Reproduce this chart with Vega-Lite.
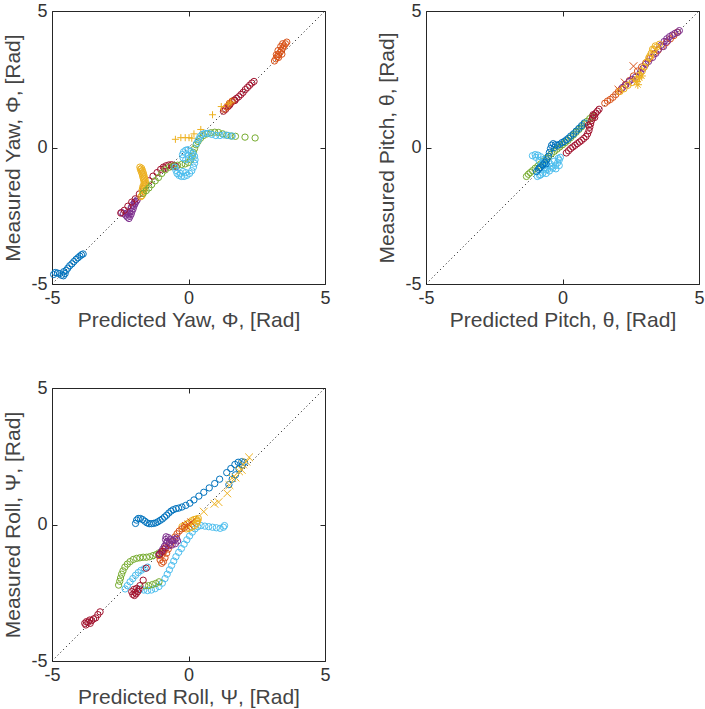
{
"$schema":"https://vega.github.io/schema/vega-lite/v6.json",
"background":"white",
"padding":{"left":2,"top":1,"right":0,"bottom":0},
"config":{
 "view":{"stroke":"#262626","strokeWidth":1},
 "axis":{"domain":false,"grid":false,"tickSize":-5,"tickColor":"#262626","tickWidth":1,
  "labelFont":"Liberation Sans","labelFontSize":18,"labelColor":"#333333","labelPadding":10,"labelFlush":false,
  "titleFont":"Liberation Sans","titleFontSize":21,"titleFontWeight":"normal","titleColor":"#444444"},
 "axisX":{"titlePadding":2},
 "axisY":{"titlePadding":7}
},
"datasets":{
"diag":[{"x":-5,"y":-5},{"x":5,"y":5}],
"yaw":[
{"s":"b","m":"o","x":-4.94,"y":-4.65},{"s":"b","m":"o","x":-4.88,"y":-4.58},{"s":"b","m":"o","x":-4.8,"y":-4.6},{"s":"b","m":"o","x":-4.72,"y":-4.62},{"s":"b","m":"o","x":-4.65,"y":-4.68},{"s":"b","m":"o","x":-4.58,"y":-4.7},{"s":"b","m":"o","x":-4.52,"y":-4.62},{"s":"b","m":"o","x":-4.57,"y":-4.55},{"s":"b","m":"o","x":-4.48,"y":-4.5},{"s":"b","m":"o","x":-4.42,"y":-4.42},{"s":"b","m":"o","x":-4.35,"y":-4.33},{"s":"b","m":"o","x":-4.27,"y":-4.26},{"s":"b","m":"o","x":-4.2,"y":-4.18},{"s":"b","m":"o","x":-4.12,"y":-4.1},{"s":"b","m":"o","x":-4.05,"y":-4.04},{"s":"b","m":"o","x":-3.98,"y":-3.98},{"s":"b","m":"o","x":-3.92,"y":-3.93},{"s":"b","m":"o","x":-3.86,"y":-3.9},
{"s":"p","m":"o","x":-2.45,"y":-2.38},{"s":"p","m":"o","x":-2.38,"y":-2.42},{"s":"p","m":"o","x":-2.3,"y":-2.48},{"s":"p","m":"o","x":-2.24,"y":-2.55},{"s":"p","m":"o","x":-2.18,"y":-2.6},{"s":"p","m":"o","x":-2.14,"y":-2.52},{"s":"p","m":"o","x":-2.1,"y":-2.44},{"s":"p","m":"o","x":-2.07,"y":-2.34},{"s":"p","m":"o","x":-2.03,"y":-2.25},{"s":"p","m":"o","x":-2.0,"y":-2.15},{"s":"p","m":"o","x":-1.96,"y":-2.06},{"s":"p","m":"o","x":-1.92,"y":-1.98},{"s":"p","m":"o","x":-1.88,"y":-1.92},{"s":"p","m":"o","x":-2.2,"y":-2.45},{"s":"p","m":"o","x":-2.15,"y":-2.35},{"s":"p","m":"o","x":-2.25,"y":-2.4},{"s":"p","m":"o","x":-2.1,"y":-2.2},{"s":"p","m":"o","x":-2.05,"y":-2.1},{"s":"p","m":"o","x":-1.98,"y":-2.0},
{"s":"r","m":"o","x":-2.48,"y":-2.4},{"s":"r","m":"o","x":-2.35,"y":-2.3},{"s":"r","m":"o","x":-2.22,"y":-2.15},{"s":"r","m":"o","x":-2.08,"y":-2.0},{"s":"r","m":"o","x":-1.95,"y":-1.88},{"s":"r","m":"o","x":-1.8,"y":-1.7},{"s":"r","m":"o","x":-1.65,"y":-1.5},{"s":"r","m":"o","x":-1.45,"y":-1.22},{"s":"r","m":"o","x":-1.3,"y":-1.05},{"s":"r","m":"o","x":-1.15,"y":-0.92},{"s":"r","m":"o","x":-1.02,"y":-0.8},{"s":"r","m":"o","x":-0.92,"y":-0.72},{"s":"r","m":"o","x":-0.82,"y":-0.67},{"s":"r","m":"o","x":-0.72,"y":-0.64},{"s":"r","m":"o","x":-0.62,"y":-0.63},{"s":"r","m":"o","x":-0.52,"y":-0.66},{"s":"r","m":"o","x":-0.45,"y":-0.7},{"s":"r","m":"o","x":-0.88,"y":-0.78},{"s":"r","m":"o","x":-0.6,"y":-0.7},
{"s":"r","m":"o","x":1.28,"y":1.33},{"s":"r","m":"o","x":1.36,"y":1.4},{"s":"r","m":"o","x":1.45,"y":1.5},{"s":"r","m":"o","x":1.53,"y":1.6},{"s":"r","m":"o","x":1.6,"y":1.68},{"s":"r","m":"o","x":1.68,"y":1.74},{"s":"r","m":"o","x":1.76,"y":1.8},{"s":"r","m":"o","x":1.84,"y":1.86},{"s":"r","m":"o","x":1.92,"y":1.94},{"s":"r","m":"o","x":2.0,"y":2.02},{"s":"r","m":"o","x":2.08,"y":2.12},{"s":"r","m":"o","x":2.16,"y":2.2},{"s":"r","m":"o","x":2.24,"y":2.28},{"s":"r","m":"o","x":2.32,"y":2.36},{"s":"r","m":"o","x":2.4,"y":2.42},{"s":"r","m":"o","x":1.5,"y":1.55},{"s":"r","m":"o","x":1.7,"y":1.72},
{"s":"o","m":"o","x":3.15,"y":3.17},{"s":"o","m":"o","x":3.2,"y":3.25},{"s":"o","m":"o","x":3.25,"y":3.33},{"s":"o","m":"o","x":3.3,"y":3.4},{"s":"o","m":"o","x":3.35,"y":3.48},{"s":"o","m":"o","x":3.4,"y":3.56},{"s":"o","m":"o","x":3.45,"y":3.64},{"s":"o","m":"o","x":3.5,"y":3.72},{"s":"o","m":"o","x":3.55,"y":3.8},{"s":"o","m":"o","x":3.6,"y":3.86},{"s":"o","m":"o","x":3.22,"y":3.4},{"s":"o","m":"o","x":3.28,"y":3.55},{"s":"o","m":"o","x":3.38,"y":3.7},{"s":"o","m":"o","x":3.45,"y":3.8},{"s":"o","m":"o","x":3.3,"y":3.3},{"s":"o","m":"o","x":3.42,"y":3.42},{"s":"o","m":"o","x":1.3,"y":1.4},{"s":"o","m":"o","x":1.4,"y":1.48},{"s":"o","m":"o","x":1.5,"y":1.62},{"s":"o","m":"o","x":1.6,"y":1.7},
{"s":"y","m":"o","x":-1.78,"y":-0.72},{"s":"y","m":"o","x":-1.76,"y":-0.8},{"s":"y","m":"o","x":-1.73,"y":-0.88},{"s":"y","m":"o","x":-1.7,"y":-0.96},{"s":"y","m":"o","x":-1.68,"y":-1.04},{"s":"y","m":"o","x":-1.66,"y":-1.12},{"s":"y","m":"o","x":-1.64,"y":-1.2},{"s":"y","m":"o","x":-1.62,"y":-1.28},{"s":"y","m":"o","x":-1.6,"y":-1.36},{"s":"y","m":"o","x":-1.6,"y":-1.44},{"s":"y","m":"o","x":-1.62,"y":-1.52},{"s":"y","m":"o","x":-1.64,"y":-1.6},{"s":"y","m":"o","x":-1.67,"y":-1.68},{"s":"y","m":"o","x":-1.7,"y":-1.76},{"s":"y","m":"o","x":-1.74,"y":-1.8},{"s":"y","m":"o","x":-1.72,"y":-0.76},{"s":"y","m":"o","x":-1.69,"y":-0.84},{"s":"y","m":"o","x":-1.66,"y":-0.92},{"s":"y","m":"o","x":-1.64,"y":-1.0},{"s":"y","m":"o","x":-1.62,"y":-1.08},{"s":"y","m":"o","x":-1.6,"y":-1.16},{"s":"y","m":"o","x":-1.58,"y":-1.24},{"s":"y","m":"o","x":-1.57,"y":-1.32},{"s":"y","m":"o","x":-1.66,"y":-1.4},{"s":"y","m":"o","x":-1.68,"y":-1.48},{"s":"y","m":"o","x":-1.7,"y":-1.56},
{"s":"y","m":"+","x":-0.48,"y":0.3},{"s":"y","m":"+","x":-0.28,"y":0.36},{"s":"y","m":"+","x":-0.12,"y":0.36},{"s":"y","m":"+","x":0.02,"y":0.36},{"s":"y","m":"+","x":0.12,"y":0.34},{"s":"y","m":"+","x":0.2,"y":0.5},{"s":"y","m":"+","x":0.45,"y":0.66},{"s":"y","m":"+","x":0.88,"y":1.2},{"s":"y","m":"+","x":1.2,"y":1.5},{"s":"y","m":"+","x":1.45,"y":1.6},{"s":"y","m":"+","x":1.55,"y":1.66},
{"s":"g","m":"o","x":-1.66,"y":-1.68},{"s":"g","m":"o","x":-1.55,"y":-1.58},{"s":"g","m":"o","x":-1.45,"y":-1.48},{"s":"g","m":"o","x":-1.35,"y":-1.36},{"s":"g","m":"o","x":-1.22,"y":-1.22},{"s":"g","m":"o","x":-1.1,"y":-1.1},{"s":"g","m":"o","x":-0.98,"y":-0.95},{"s":"g","m":"o","x":-0.85,"y":-0.82},{"s":"g","m":"o","x":-0.7,"y":-0.72},{"s":"g","m":"o","x":-0.55,"y":-0.68},{"s":"g","m":"o","x":-0.4,"y":-0.65},{"s":"g","m":"o","x":-0.25,"y":-0.62},{"s":"g","m":"o","x":-0.12,"y":-0.6},{"s":"g","m":"o","x":0.0,"y":-0.55},{"s":"g","m":"o","x":0.08,"y":-0.45},{"s":"g","m":"o","x":0.14,"y":-0.32},{"s":"g","m":"o","x":0.18,"y":-0.18},{"s":"g","m":"o","x":0.22,"y":-0.04},{"s":"g","m":"o","x":0.28,"y":0.1},{"s":"g","m":"o","x":0.35,"y":0.22},{"s":"g","m":"o","x":0.44,"y":0.34},{"s":"g","m":"o","x":0.55,"y":0.44},{"s":"g","m":"o","x":0.68,"y":0.5},{"s":"g","m":"o","x":0.82,"y":0.54},{"s":"g","m":"o","x":0.96,"y":0.56},{"s":"g","m":"o","x":1.1,"y":0.55},{"s":"g","m":"o","x":1.25,"y":0.5},{"s":"g","m":"o","x":1.4,"y":0.45},{"s":"g","m":"o","x":1.56,"y":0.42},{"s":"g","m":"o","x":1.72,"y":0.41},{"s":"g","m":"o","x":2.07,"y":0.38},{"s":"g","m":"o","x":2.44,"y":0.35},
{"s":"c","m":"o","x":-0.5,"y":-0.72},{"s":"c","m":"o","x":-0.46,"y":-0.84},{"s":"c","m":"o","x":-0.42,"y":-0.95},{"s":"c","m":"o","x":-0.35,"y":-1.02},{"s":"c","m":"o","x":-0.26,"y":-1.06},{"s":"c","m":"o","x":-0.16,"y":-1.06},{"s":"c","m":"o","x":-0.06,"y":-1.02},{"s":"c","m":"o","x":0.04,"y":-0.95},{"s":"c","m":"o","x":0.12,"y":-0.85},{"s":"c","m":"o","x":0.18,"y":-0.72},{"s":"c","m":"o","x":0.22,"y":-0.58},{"s":"c","m":"o","x":0.24,"y":-0.45},{"s":"c","m":"o","x":0.22,"y":-0.32},{"s":"c","m":"o","x":0.16,"y":-0.22},{"s":"c","m":"o","x":0.08,"y":-0.14},{"s":"c","m":"o","x":-0.02,"y":-0.08},{"s":"c","m":"o","x":-0.1,"y":-0.1},{"s":"c","m":"o","x":-0.18,"y":-0.16},{"s":"c","m":"o","x":-0.22,"y":-0.26},{"s":"c","m":"o","x":-0.2,"y":-0.38},{"s":"c","m":"o","x":-0.1,"y":-0.45},{"s":"c","m":"o","x":0.0,"y":-0.4},{"s":"c","m":"o","x":0.1,"y":-0.3},{"s":"c","m":"o","x":-0.3,"y":-0.95},{"s":"c","m":"o","x":-0.2,"y":-0.88},{"s":"c","m":"o","x":-0.1,"y":-0.92},{"s":"c","m":"o","x":0.3,"y":0.15},{"s":"c","m":"o","x":0.36,"y":0.28},{"s":"c","m":"o","x":0.42,"y":0.4},{"s":"c","m":"o","x":0.5,"y":0.48},{"s":"c","m":"o","x":0.6,"y":0.52},{"s":"c","m":"o","x":0.72,"y":0.52},{"s":"c","m":"o","x":0.85,"y":0.48},{"s":"c","m":"o","x":1.0,"y":0.44},{"s":"c","m":"o","x":1.15,"y":0.44},{"s":"c","m":"o","x":1.3,"y":0.46},{"s":"c","m":"o","x":1.45,"y":0.44},{"s":"c","m":"o","x":1.6,"y":0.42}
],
"pitch":[
{"s":"g","m":"o","x":-1.32,"y":-1.06},{"s":"g","m":"o","x":-1.25,"y":-0.98},{"s":"g","m":"o","x":-1.18,"y":-0.92},{"s":"g","m":"o","x":-1.1,"y":-0.85},{"s":"g","m":"o","x":-1.0,"y":-0.76},{"s":"g","m":"o","x":-0.9,"y":-0.68},{"s":"g","m":"o","x":-0.8,"y":-0.6},{"s":"g","m":"o","x":-0.7,"y":-0.5},{"s":"g","m":"o","x":-0.6,"y":-0.4},{"s":"g","m":"o","x":-0.5,"y":-0.32},{"s":"g","m":"o","x":-0.4,"y":-0.22},{"s":"g","m":"o","x":-0.3,"y":-0.14},{"s":"g","m":"o","x":-0.2,"y":-0.06},{"s":"g","m":"o","x":-0.1,"y":0.02},{"s":"g","m":"o","x":0.0,"y":0.1},{"s":"g","m":"o","x":0.1,"y":0.18},{"s":"g","m":"o","x":0.2,"y":0.26},{"s":"g","m":"o","x":0.3,"y":0.36},{"s":"g","m":"o","x":0.4,"y":0.46},{"s":"g","m":"o","x":0.5,"y":0.56},{"s":"g","m":"o","x":0.6,"y":0.66},{"s":"g","m":"o","x":0.7,"y":0.76},{"s":"g","m":"o","x":0.8,"y":0.86},{"s":"g","m":"o","x":0.9,"y":0.96},{"s":"g","m":"o","x":1.0,"y":1.06},{"s":"g","m":"o","x":1.1,"y":1.14},
{"s":"c","m":"o","x":-1.1,"y":-0.3},{"s":"c","m":"o","x":-1.0,"y":-0.26},{"s":"c","m":"o","x":-0.9,"y":-0.28},{"s":"c","m":"o","x":-0.8,"y":-0.34},{"s":"c","m":"o","x":-0.7,"y":-0.44},{"s":"c","m":"o","x":-0.62,"y":-0.55},{"s":"c","m":"o","x":-0.56,"y":-0.68},{"s":"c","m":"o","x":-0.62,"y":-0.82},{"s":"c","m":"o","x":-0.72,"y":-0.94},{"s":"c","m":"o","x":-0.84,"y":-1.02},{"s":"c","m":"o","x":-0.92,"y":-1.06},{"s":"c","m":"o","x":-0.8,"y":-1.0},{"s":"c","m":"o","x":-0.6,"y":-0.95},{"s":"c","m":"o","x":-0.48,"y":-0.86},{"s":"c","m":"o","x":-0.36,"y":-0.76},{"s":"c","m":"o","x":-0.26,"y":-0.66},{"s":"c","m":"o","x":-0.18,"y":-0.56},{"s":"c","m":"o","x":-0.12,"y":-0.46},{"s":"c","m":"o","x":-0.08,"y":-0.36},{"s":"c","m":"o","x":-0.16,"y":-0.4},{"s":"c","m":"o","x":-0.3,"y":-0.5},{"s":"c","m":"o","x":-0.45,"y":-0.6},{"s":"c","m":"o","x":-0.98,"y":-0.36},{"s":"c","m":"o","x":-0.86,"y":-0.48},{"s":"c","m":"o","x":-0.74,"y":-0.6},{"s":"c","m":"o","x":-0.66,"y":-0.74},{"s":"c","m":"o","x":-0.55,"y":-0.8},{"s":"c","m":"o","x":-0.4,"y":-0.7},{"s":"c","m":"o","x":-0.24,"y":-0.78},{"s":"c","m":"o","x":-0.12,"y":-0.66},
{"s":"b","m":"o","x":-0.95,"y":-0.88},{"s":"b","m":"o","x":-0.88,"y":-0.8},{"s":"b","m":"o","x":-0.8,"y":-0.72},{"s":"b","m":"o","x":-0.72,"y":-0.64},{"s":"b","m":"o","x":-0.65,"y":-0.55},{"s":"b","m":"o","x":-0.58,"y":-0.45},{"s":"b","m":"o","x":-0.52,"y":-0.32},{"s":"b","m":"o","x":-0.48,"y":-0.18},{"s":"b","m":"o","x":-0.44,"y":-0.04},{"s":"b","m":"o","x":-0.4,"y":0.08},{"s":"b","m":"o","x":-0.34,"y":0.14},{"s":"b","m":"o","x":-0.26,"y":0.1},{"s":"b","m":"o","x":-0.18,"y":0.08},{"s":"b","m":"o","x":-0.1,"y":0.12},{"s":"b","m":"o","x":-0.02,"y":0.18},{"s":"b","m":"o","x":0.06,"y":0.22},{"s":"b","m":"o","x":0.14,"y":0.28},{"s":"b","m":"o","x":0.22,"y":0.34},{"s":"b","m":"o","x":0.3,"y":0.42},{"s":"b","m":"o","x":0.4,"y":0.5},{"s":"b","m":"o","x":0.5,"y":0.6},{"s":"b","m":"o","x":0.6,"y":0.7},{"s":"b","m":"o","x":0.7,"y":0.8},{"s":"b","m":"o","x":0.8,"y":0.9},{"s":"b","m":"o","x":-0.3,"y":0.0},{"s":"b","m":"o","x":-0.6,"y":-0.6},{"s":"b","m":"o","x":-0.85,"y":-0.75},
{"s":"r","m":"o","x":0.14,"y":-0.2},{"s":"r","m":"o","x":0.22,"y":-0.12},{"s":"r","m":"o","x":0.3,"y":-0.04},{"s":"r","m":"o","x":0.38,"y":0.02},{"s":"r","m":"o","x":0.46,"y":0.08},{"s":"r","m":"o","x":0.54,"y":0.14},{"s":"r","m":"o","x":0.62,"y":0.2},{"s":"r","m":"o","x":0.7,"y":0.26},{"s":"r","m":"o","x":0.78,"y":0.33},{"s":"r","m":"o","x":0.86,"y":0.4},{"s":"r","m":"o","x":0.92,"y":0.5},{"s":"r","m":"o","x":0.97,"y":0.62},{"s":"r","m":"o","x":1.0,"y":0.74},{"s":"r","m":"o","x":1.03,"y":0.86},{"s":"r","m":"o","x":1.06,"y":0.98},{"s":"r","m":"o","x":1.1,"y":1.08},{"s":"r","m":"o","x":1.16,"y":1.18},{"s":"r","m":"o","x":1.22,"y":1.26},{"s":"r","m":"o","x":1.28,"y":1.33},{"s":"r","m":"o","x":1.34,"y":1.4},{"s":"r","m":"o","x":1.18,"y":1.1},{"s":"r","m":"o","x":1.12,"y":1.2},{"s":"r","m":"o","x":0.95,"y":0.82},
{"s":"o","m":"o","x":1.55,"y":1.62},{"s":"o","m":"o","x":1.65,"y":1.7},{"s":"o","m":"o","x":1.75,"y":1.76},{"s":"o","m":"o","x":1.85,"y":1.84},{"s":"o","m":"o","x":1.95,"y":1.94},{"s":"o","m":"o","x":2.05,"y":2.05},{"s":"o","m":"o","x":2.15,"y":2.14},{"s":"o","m":"o","x":2.3,"y":2.3},{"s":"o","m":"o","x":2.45,"y":2.45},{"s":"o","m":"o","x":2.6,"y":2.62},{"s":"o","m":"o","x":2.75,"y":2.8},{"s":"o","m":"o","x":2.9,"y":2.95},{"s":"o","m":"o","x":3.05,"y":3.1},{"s":"o","m":"o","x":3.2,"y":3.26},{"s":"o","m":"o","x":3.35,"y":3.42},{"s":"o","m":"o","x":3.5,"y":3.56},{"s":"o","m":"o","x":3.65,"y":3.7},{"s":"o","m":"o","x":3.8,"y":3.84},{"s":"o","m":"o","x":3.95,"y":3.98},{"s":"o","m":"o","x":4.08,"y":4.1},{"s":"o","m":"o","x":4.2,"y":4.22},
{"s":"o","m":"x","x":2.6,"y":2.98},{"s":"o","m":"x","x":2.28,"y":2.38},{"s":"o","m":"x","x":2.05,"y":2.12},
{"s":"p","m":"o","x":2.2,"y":2.2},{"s":"p","m":"o","x":2.32,"y":2.3},{"s":"p","m":"o","x":2.44,"y":2.42},{"s":"p","m":"o","x":2.55,"y":2.5},{"s":"p","m":"o","x":2.68,"y":2.58},{"s":"p","m":"o","x":2.85,"y":2.75},{"s":"p","m":"o","x":2.95,"y":2.9},{"s":"p","m":"o","x":3.05,"y":3.05},{"s":"p","m":"o","x":3.15,"y":3.15},{"s":"p","m":"o","x":3.3,"y":3.3},{"s":"p","m":"o","x":3.42,"y":3.45},{"s":"p","m":"o","x":3.52,"y":3.6},{"s":"p","m":"o","x":3.62,"y":3.75},{"s":"p","m":"o","x":3.72,"y":3.88},{"s":"p","m":"o","x":3.82,"y":3.98},{"s":"p","m":"o","x":3.92,"y":4.06},{"s":"p","m":"o","x":4.02,"y":4.12},{"s":"p","m":"o","x":4.12,"y":4.18},{"s":"p","m":"o","x":4.22,"y":4.22},{"s":"p","m":"o","x":4.28,"y":4.28},{"s":"p","m":"o","x":3.7,"y":3.7},{"s":"p","m":"o","x":3.85,"y":3.9},
{"s":"y","m":"o","x":2.1,"y":2.05},{"s":"y","m":"o","x":2.25,"y":2.15},{"s":"y","m":"o","x":2.4,"y":2.28},{"s":"y","m":"o","x":2.55,"y":2.38},{"s":"y","m":"o","x":2.7,"y":2.5},{"s":"y","m":"o","x":2.82,"y":2.65},{"s":"y","m":"o","x":2.92,"y":2.8},{"s":"y","m":"o","x":3.0,"y":2.95},{"s":"y","m":"o","x":3.08,"y":3.12},{"s":"y","m":"o","x":3.16,"y":3.28},{"s":"y","m":"o","x":3.25,"y":3.45},{"s":"y","m":"o","x":3.35,"y":3.58},{"s":"y","m":"o","x":3.45,"y":3.68},{"s":"y","m":"o","x":3.55,"y":3.78},{"s":"y","m":"o","x":3.3,"y":3.6},{"s":"y","m":"o","x":3.4,"y":3.72},{"s":"y","m":"o","x":3.2,"y":3.35},
{"s":"y","m":"*","x":2.72,"y":2.42},{"s":"y","m":"*","x":2.82,"y":2.55},{"s":"y","m":"*","x":2.76,"y":2.3},{"s":"y","m":"*","x":2.9,"y":2.62}
],
"roll":[
{"s":"b","m":"o","x":-1.94,"y":0.04},{"s":"b","m":"o","x":-1.9,"y":0.16},{"s":"b","m":"o","x":-1.84,"y":0.22},{"s":"b","m":"o","x":-1.76,"y":0.22},{"s":"b","m":"o","x":-1.68,"y":0.18},{"s":"b","m":"o","x":-1.6,"y":0.12},{"s":"b","m":"o","x":-1.52,"y":0.06},{"s":"b","m":"o","x":-1.44,"y":0.03},{"s":"b","m":"o","x":-1.36,"y":0.03},{"s":"b","m":"o","x":-1.28,"y":0.04},{"s":"b","m":"o","x":-1.2,"y":0.06},{"s":"b","m":"o","x":-1.12,"y":0.1},{"s":"b","m":"o","x":-1.04,"y":0.15},{"s":"b","m":"o","x":-0.96,"y":0.2},{"s":"b","m":"o","x":-0.88,"y":0.27},{"s":"b","m":"o","x":-0.8,"y":0.34},{"s":"b","m":"o","x":-0.72,"y":0.42},{"s":"b","m":"o","x":-0.64,"y":0.49},{"s":"b","m":"o","x":-0.56,"y":0.54},{"s":"b","m":"o","x":-0.46,"y":0.58},{"s":"b","m":"o","x":-0.36,"y":0.6},{"s":"b","m":"o","x":-0.24,"y":0.64},{"s":"b","m":"o","x":-0.1,"y":0.7},{"s":"b","m":"o","x":0.05,"y":0.78},{"s":"b","m":"o","x":0.2,"y":0.9},{"s":"b","m":"o","x":0.38,"y":1.04},{"s":"b","m":"o","x":0.56,"y":1.18},{"s":"b","m":"o","x":0.76,"y":1.34},{"s":"b","m":"o","x":0.96,"y":1.5},{"s":"b","m":"o","x":1.14,"y":1.66},{"s":"b","m":"o","x":1.4,"y":1.9},{"s":"b","m":"o","x":1.55,"y":2.05},{"s":"b","m":"o","x":1.7,"y":2.2},{"s":"b","m":"o","x":1.82,"y":2.28},{"s":"b","m":"o","x":1.95,"y":2.3},{"s":"b","m":"o","x":2.05,"y":2.28},{"s":"b","m":"o","x":1.97,"y":2.18},{"s":"b","m":"o","x":1.85,"y":2.04},{"s":"b","m":"o","x":1.72,"y":1.82},{"s":"b","m":"o","x":1.6,"y":1.66},{"s":"b","m":"o","x":1.48,"y":1.46},
{"s":"y","m":"x","x":0.56,"y":0.47},{"s":"y","m":"x","x":0.95,"y":0.76},{"s":"y","m":"x","x":1.1,"y":0.82},{"s":"y","m":"x","x":1.42,"y":1.14},{"s":"y","m":"x","x":1.5,"y":1.44},{"s":"y","m":"x","x":1.6,"y":1.7},{"s":"y","m":"x","x":1.72,"y":1.72},{"s":"y","m":"x","x":1.85,"y":1.95},{"s":"y","m":"x","x":2.0,"y":2.2},{"s":"y","m":"x","x":2.12,"y":2.3},{"s":"y","m":"x","x":2.22,"y":2.46},{"s":"y","m":"x","x":1.95,"y":2.0},
{"s":"c","m":"o","x":-2.32,"y":-2.36},{"s":"c","m":"o","x":-2.24,"y":-2.24},{"s":"c","m":"o","x":-2.14,"y":-2.1},{"s":"c","m":"o","x":-2.04,"y":-1.98},{"s":"c","m":"o","x":-1.94,"y":-1.86},{"s":"c","m":"o","x":-1.84,"y":-1.76},{"s":"c","m":"o","x":-1.74,"y":-1.68},{"s":"c","m":"o","x":-1.62,"y":-1.62},{"s":"c","m":"o","x":-1.5,"y":-1.56},{"s":"c","m":"o","x":-1.76,"y":-2.36},{"s":"c","m":"o","x":-1.64,"y":-2.4},{"s":"c","m":"o","x":-1.5,"y":-2.42},{"s":"c","m":"o","x":-1.36,"y":-2.4},{"s":"c","m":"o","x":-1.22,"y":-2.35},{"s":"c","m":"o","x":-1.08,"y":-2.27},{"s":"c","m":"o","x":-0.96,"y":-2.15},{"s":"c","m":"o","x":-0.86,"y":-1.98},{"s":"c","m":"o","x":-0.78,"y":-1.82},{"s":"c","m":"o","x":-0.7,"y":-1.66},{"s":"c","m":"o","x":-0.62,"y":-1.5},{"s":"c","m":"o","x":-0.54,"y":-1.34},{"s":"c","m":"o","x":-0.46,"y":-1.18},{"s":"c","m":"o","x":-0.36,"y":-1.02},{"s":"c","m":"o","x":-0.26,"y":-0.88},{"s":"c","m":"o","x":-0.16,"y":-0.72},{"s":"c","m":"o","x":-0.06,"y":-0.56},{"s":"c","m":"o","x":0.04,"y":-0.42},{"s":"c","m":"o","x":0.14,"y":-0.28},{"s":"c","m":"o","x":0.24,"y":-0.16},{"s":"c","m":"o","x":0.34,"y":-0.08},{"s":"c","m":"o","x":0.46,"y":-0.04},{"s":"c","m":"o","x":0.6,"y":-0.06},{"s":"c","m":"o","x":0.74,"y":-0.08},{"s":"c","m":"o","x":0.88,"y":-0.1},{"s":"c","m":"o","x":1.02,"y":-0.12},{"s":"c","m":"o","x":1.16,"y":-0.14},{"s":"c","m":"o","x":1.28,"y":-0.1},{"s":"c","m":"o","x":1.32,"y":-0.04},
{"s":"g","m":"o","x":-2.56,"y":-2.22},{"s":"g","m":"o","x":-2.52,"y":-2.08},{"s":"g","m":"o","x":-2.49,"y":-1.96},{"s":"g","m":"o","x":-2.45,"y":-1.82},{"s":"g","m":"o","x":-2.4,"y":-1.7},{"s":"g","m":"o","x":-2.33,"y":-1.56},{"s":"g","m":"o","x":-2.24,"y":-1.45},{"s":"g","m":"o","x":-2.14,"y":-1.36},{"s":"g","m":"o","x":-2.02,"y":-1.28},{"s":"g","m":"o","x":-1.9,"y":-1.24},{"s":"g","m":"o","x":-1.78,"y":-1.22},{"s":"g","m":"o","x":-1.66,"y":-1.2},{"s":"g","m":"o","x":-1.54,"y":-1.2},{"s":"g","m":"o","x":-1.42,"y":-1.18},{"s":"g","m":"o","x":-1.3,"y":-1.14},{"s":"g","m":"o","x":-1.18,"y":-1.1},{"s":"g","m":"o","x":-1.08,"y":-1.04},{"s":"g","m":"o","x":-1.6,"y":-2.24},{"s":"g","m":"o","x":-1.46,"y":-2.24},{"s":"g","m":"o","x":-1.32,"y":-2.2},{"s":"g","m":"o","x":-1.2,"y":-2.16},{"s":"g","m":"o","x":-1.08,"y":-2.1},
{"s":"y","m":"o","x":-0.24,"y":-0.08},{"s":"y","m":"o","x":-0.15,"y":-0.04},{"s":"y","m":"o","x":-0.06,"y":0.02},{"s":"y","m":"o","x":0.04,"y":0.08},{"s":"y","m":"o","x":0.12,"y":0.14},{"s":"y","m":"o","x":0.2,"y":0.18},{"s":"y","m":"o","x":0.28,"y":0.2},{"s":"y","m":"o","x":0.34,"y":0.14},{"s":"y","m":"o","x":0.3,"y":0.04},{"s":"y","m":"o","x":0.22,"y":-0.04},{"s":"y","m":"o","x":0.12,"y":-0.1},{"s":"y","m":"o","x":0.02,"y":-0.14},{"s":"y","m":"o","x":-0.08,"y":-0.16},{"s":"y","m":"o","x":0.36,"y":0.22},{"s":"y","m":"o","x":0.3,"y":0.12},
{"s":"o","m":"o","x":-1.08,"y":-1.14},{"s":"o","m":"o","x":-1.04,"y":-1.3},{"s":"o","m":"o","x":-0.98,"y":-1.42},{"s":"o","m":"o","x":-0.92,"y":-1.36},{"s":"o","m":"o","x":-0.86,"y":-1.22},{"s":"o","m":"o","x":-0.8,"y":-1.05},{"s":"o","m":"o","x":-0.74,"y":-0.9},{"s":"o","m":"o","x":-0.66,"y":-0.74},{"s":"o","m":"o","x":-0.58,"y":-0.6},{"s":"o","m":"o","x":-0.5,"y":-0.46},{"s":"o","m":"o","x":-0.42,"y":-0.34},{"s":"o","m":"o","x":-0.34,"y":-0.24},{"s":"o","m":"o","x":-0.24,"y":-0.16},{"s":"o","m":"o","x":-0.14,"y":-0.1},{"s":"o","m":"o","x":-0.96,"y":-1.1},{"s":"o","m":"o","x":-0.9,"y":-0.98},
{"s":"o","m":"x","x":0.0,"y":0.0},{"s":"o","m":"x","x":0.1,"y":0.08},{"s":"o","m":"x","x":-0.1,"y":-0.05},
{"s":"p","m":"o","x":-1.08,"y":-1.1},{"s":"p","m":"o","x":-1.0,"y":-1.0},{"s":"p","m":"o","x":-0.94,"y":-0.9},{"s":"p","m":"o","x":-0.88,"y":-0.8},{"s":"p","m":"o","x":-0.82,"y":-0.7},{"s":"p","m":"o","x":-0.84,"y":-0.55},{"s":"p","m":"o","x":-0.82,"y":-0.45},{"s":"p","m":"o","x":-0.74,"y":-0.48},{"s":"p","m":"o","x":-0.66,"y":-0.54},{"s":"p","m":"o","x":-0.58,"y":-0.58},{"s":"p","m":"o","x":-0.5,"y":-0.56},{"s":"p","m":"o","x":-0.44,"y":-0.5},{"s":"p","m":"o","x":-0.4,"y":-0.6},{"s":"p","m":"o","x":-0.48,"y":-0.7},{"s":"p","m":"o","x":-0.6,"y":-0.75},{"s":"p","m":"o","x":-0.72,"y":-0.78},{"s":"p","m":"o","x":-0.78,"y":-0.62},{"s":"p","m":"o","x":-0.7,"y":-0.66},
{"s":"r","m":"o","x":-3.8,"y":-3.62},{"s":"r","m":"o","x":-3.74,"y":-3.56},{"s":"r","m":"o","x":-3.68,"y":-3.58},{"s":"r","m":"o","x":-3.62,"y":-3.5},{"s":"r","m":"o","x":-3.55,"y":-3.52},{"s":"r","m":"o","x":-3.48,"y":-3.46},{"s":"r","m":"o","x":-3.4,"y":-3.42},{"s":"r","m":"o","x":-3.32,"y":-3.3},{"s":"r","m":"o","x":-3.24,"y":-3.2},{"s":"r","m":"o","x":-3.76,"y":-3.68},{"s":"r","m":"o","x":-3.6,"y":-3.62},{"s":"r","m":"o","x":-2.08,"y":-2.46},{"s":"r","m":"o","x":-2.04,"y":-2.56},{"s":"r","m":"o","x":-1.98,"y":-2.6},{"s":"r","m":"o","x":-1.92,"y":-2.54},{"s":"r","m":"o","x":-1.86,"y":-2.46},{"s":"r","m":"o","x":-1.82,"y":-2.38},{"s":"r","m":"o","x":-1.9,"y":-2.34},{"s":"r","m":"o","x":-2.0,"y":-2.38},{"s":"r","m":"o","x":-1.96,"y":-2.48},{"s":"r","m":"o","x":-1.78,"y":-2.24},{"s":"r","m":"o","x":-1.66,"y":-2.04},{"s":"r","m":"o","x":-1.55,"y":-1.6},{"s":"r","m":"o","x":-1.05,"y":-1.08},{"s":"r","m":"o","x":-0.95,"y":-0.98},{"s":"r","m":"o","x":-0.85,"y":-0.86}
]
},
"columns":2,
"spacing":{"row":104,"column":101},
"bounds":"flush",
"concat":[
{"width":273,"height":273,
 "layer":[
  {"data":{"name":"diag"},"mark":{"type":"line","color":"#000000","strokeDash":[1,3],"strokeWidth":1},
   "encoding":{"x":{"field":"x","type":"quantitative","scale":{"domain":[-5,5],"nice":false},"axis":{"orient":"top","labels":false,"title":null,"values":[-5,0,5]}},
               "y":{"field":"y","type":"quantitative","scale":{"domain":[-5,5],"nice":false},"axis":{"orient":"right","labels":false,"title":null,"values":[-5,0,5]}}}},
  {"data":{"name":"yaw"},"mark":{"type":"point","filled":false,"strokeWidth":1,"opacity":1},
   "encoding":{"x":{"field":"x","type":"quantitative","axis":{"orient":"bottom","title":"Predicted Yaw, Φ, [Rad]","values":[-5,0,5],"labelFlush":false,"labelExpr":"'' + datum.value"}},
               "y":{"field":"y","type":"quantitative","axis":{"orient":"left","title":"Measured Yaw, Φ, [Rad]","values":[-5,0,5],"labelFlush":false,"labelExpr":"'' + datum.value"}},
               "color":{"field":"s","type":"nominal","legend":null,"scale":{"domain":["b","o","y","p","g","c","r"],"range":["#0072BD","#D95319","#EDB120","#7E2F8E","#77AC30","#4DBEEE","#A2142F"]}},
               "shape":{"field":"m","type":"nominal","legend":null,"scale":{"domain":["o","+","x","*"],"range":["circle","M-1,0L1,0M0,-1L0,1","M-1,-1L1,1M-1,1L1,-1","M-1,0L1,0M0,-1L0,1M-0.7,-0.7L0.7,0.7M-0.7,0.7L0.7,-0.7"]}},
               "size":{"field":"m","type":"nominal","legend":null,"scale":{"domain":["o","+","x","*"],"range":[40,70,55,70]}}}}
 ],
 "resolve":{"axis":{"x":"independent","y":"independent"}}},
{"width":273,"height":273,
 "layer":[
  {"data":{"name":"diag"},"mark":{"type":"line","color":"#000000","strokeDash":[1,3],"strokeWidth":1},
   "encoding":{"x":{"field":"x","type":"quantitative","scale":{"domain":[-5,5],"nice":false},"axis":{"orient":"top","labels":false,"title":null,"values":[-5,0,5]}},
               "y":{"field":"y","type":"quantitative","scale":{"domain":[-5,5],"nice":false},"axis":{"orient":"right","labels":false,"title":null,"values":[-5,0,5]}}}},
  {"data":{"name":"pitch"},"mark":{"type":"point","filled":false,"strokeWidth":1,"opacity":1},
   "encoding":{"x":{"field":"x","type":"quantitative","axis":{"orient":"bottom","title":"Predicted Pitch, θ, [Rad]","values":[-5,0,5],"labelFlush":false,"labelExpr":"'' + datum.value"}},
               "y":{"field":"y","type":"quantitative","axis":{"orient":"left","title":"Measured Pitch, θ, [Rad]","values":[-5,0,5],"labelFlush":false,"labelExpr":"'' + datum.value"}},
               "color":{"field":"s","type":"nominal","legend":null,"scale":{"domain":["b","o","y","p","g","c","r"],"range":["#0072BD","#D95319","#EDB120","#7E2F8E","#77AC30","#4DBEEE","#A2142F"]}},
               "shape":{"field":"m","type":"nominal","legend":null,"scale":{"domain":["o","+","x","*"],"range":["circle","M-1,0L1,0M0,-1L0,1","M-1,-1L1,1M-1,1L1,-1","M-1,0L1,0M0,-1L0,1M-0.7,-0.7L0.7,0.7M-0.7,0.7L0.7,-0.7"]}},
               "size":{"field":"m","type":"nominal","legend":null,"scale":{"domain":["o","+","x","*"],"range":[40,70,55,70]}}}}
 ],
 "resolve":{"axis":{"x":"independent","y":"independent"}}},
{"width":273,"height":273,
 "layer":[
  {"data":{"name":"diag"},"mark":{"type":"line","color":"#000000","strokeDash":[1,3],"strokeWidth":1},
   "encoding":{"x":{"field":"x","type":"quantitative","scale":{"domain":[-5,5],"nice":false},"axis":{"orient":"top","labels":false,"title":null,"values":[-5,0,5]}},
               "y":{"field":"y","type":"quantitative","scale":{"domain":[-5,5],"nice":false},"axis":{"orient":"right","labels":false,"title":null,"values":[-5,0,5]}}}},
  {"data":{"name":"roll"},"mark":{"type":"point","filled":false,"strokeWidth":1,"opacity":1},
   "encoding":{"x":{"field":"x","type":"quantitative","axis":{"orient":"bottom","title":"Predicted Roll, Ψ, [Rad]","values":[-5,0,5],"labelFlush":false,"labelExpr":"'' + datum.value"}},
               "y":{"field":"y","type":"quantitative","axis":{"orient":"left","title":"Measured Roll, Ψ, [Rad]","values":[-5,0,5],"labelFlush":false,"labelExpr":"'' + datum.value"}},
               "color":{"field":"s","type":"nominal","legend":null,"scale":{"domain":["b","o","y","p","g","c","r"],"range":["#0072BD","#D95319","#EDB120","#7E2F8E","#77AC30","#4DBEEE","#A2142F"]}},
               "shape":{"field":"m","type":"nominal","legend":null,"scale":{"domain":["o","+","x","*"],"range":["circle","M-1,0L1,0M0,-1L0,1","M-1,-1L1,1M-1,1L1,-1","M-1,0L1,0M0,-1L0,1M-0.7,-0.7L0.7,0.7M-0.7,0.7L0.7,-0.7"]}},
               "size":{"field":"m","type":"nominal","legend":null,"scale":{"domain":["o","+","x","*"],"range":[40,70,55,70]}}}}
 ],
 "resolve":{"axis":{"x":"independent","y":"independent"}}}
]
}
